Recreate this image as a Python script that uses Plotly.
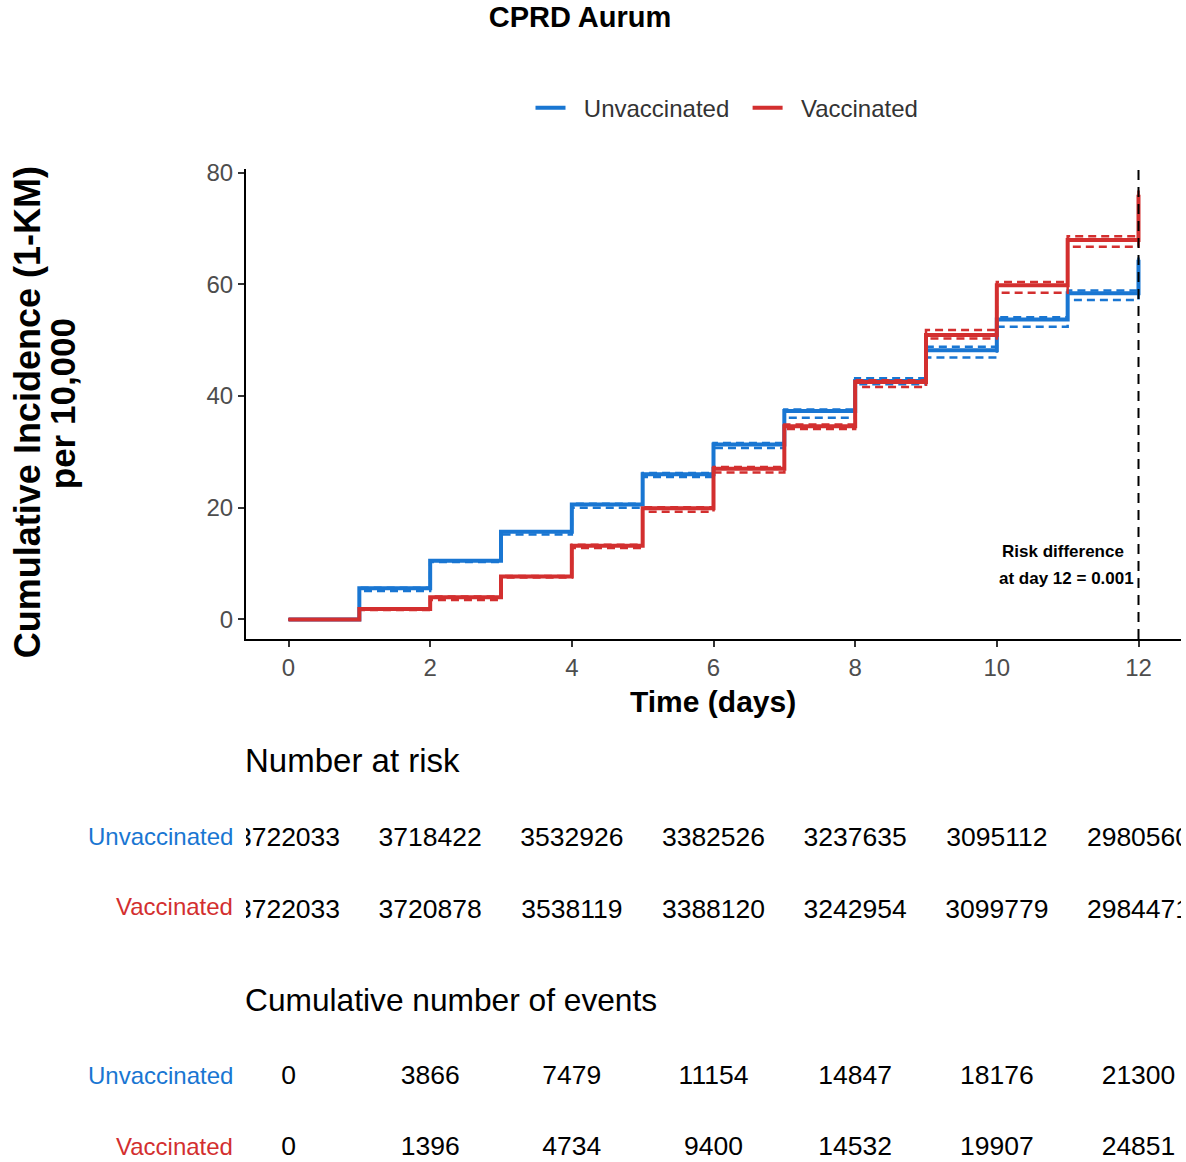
import plotly.graph_objects as go

# ---------------- data ----------------
days = [0, 1, 2, 3, 4, 5, 6, 7, 8, 9, 10, 11, 12]
unvacc_est = [0, 5.6, 10.5, 15.7, 20.6, 26.0, 31.3, 37.3, 42.7, 48.2, 53.7, 58.4, 64.4]
unvacc_upper = [0, 5.7, 10.6, 15.8, 20.7, 26.2, 31.6, 37.6, 43.2, 48.8, 54.1, 58.9, 64.8]
unvacc_lower = [0, 5.1, 10.3, 15.2, 20.0, 25.5, 30.7, 36.1, 42.1, 46.9, 52.4, 57.2, 62.8]
vacc_est = [0, 1.9, 4.0, 7.7, 13.2, 19.9, 27.0, 34.6, 42.5, 50.9, 59.8, 67.9, 76.0]
vacc_upper = [0, 2.0, 4.1, 7.8, 13.4, 20.1, 27.3, 34.9, 42.8, 51.8, 60.4, 68.6, 76.8]
vacc_lower = [0, 1.7, 3.5, 7.5, 12.8, 19.3, 26.3, 34.1, 41.6, 50.3, 58.5, 66.7, 74.8]

table_days = [0, 2, 4, 6, 8, 10, 12]
risk_unvacc = [3722033, 3718422, 3532926, 3382526, 3237635, 3095112, 2980560]
risk_vacc = [3722033, 3720878, 3538119, 3388120, 3242954, 3099779, 2984471]
events_unvacc = [0, 3866, 7479, 11154, 14847, 18176, 21300]
events_vacc = [0, 1396, 4734, 9400, 14532, 19907, 24851]

group_names = ["Unvaccinated", "Vaccinated"]
y_ticks = [0, 20, 40, 60, 80]
x_ticks = [0, 2, 4, 6, 8, 10, 12]
risk_text = ["Risk difference", "at day 12 = 0.001"]

BLUE = "#1976D2"
RED = "#D32F2F"
FONT = "Liberation Sans, Arial, sans-serif"
W, H = 1186, 1162
NB = "\u00a0"

def px_x(p):
    return p / W

def px_y(p):
    return 1 - p / H

fig = go.Figure()

# main KM curves
legend_names = [NB * 2 + group_names[0] + NB * 2, NB * 2 + group_names[1]]
for name, est, up, lo, col in [
    (legend_names[0], unvacc_est, unvacc_upper, unvacc_lower, BLUE),
    (legend_names[1], vacc_est, vacc_upper, vacc_lower, RED),
]:
    for yy in (up, lo):
        fig.add_trace(go.Scatter(x=days, y=yy, mode="lines", line_shape="hv",
                                 line=dict(color=col, width=2.5, dash="8px,5px"),
                                 showlegend=False, hoverinfo="skip",
                                 xaxis="x", yaxis="y"))
    fig.add_trace(go.Scatter(x=days, y=est, mode="lines", line_shape="hv",
                             line=dict(color=col, width=4), name=name,
                             xaxis="x", yaxis="y"))

# number at risk table
for row, vals in enumerate([risk_vacc, risk_unvacc]):
    fig.add_trace(go.Scatter(x=table_days, y=[row] * len(table_days), mode="text",
                             text=[str(v) for v in vals], cliponaxis=True,
                             textfont=dict(family=FONT, size=26.5, color="black"),
                             showlegend=False, hoverinfo="skip",
                             xaxis="x2", yaxis="y2"))
# cumulative events table
for row, vals in enumerate([events_vacc, events_unvacc]):
    fig.add_trace(go.Scatter(x=table_days, y=[row] * len(table_days), mode="text",
                             text=[str(v) for v in vals], cliponaxis=True,
                             textfont=dict(family=FONT, size=26.5, color="black"),
                             showlegend=False, hoverinfo="skip",
                             xaxis="x3", yaxis="y3"))

xdom = [px_x(246), px_x(1181)]
xrange = [-0.6, 12.6]

fig.update_layout(
    width=W, height=H,
    margin=dict(l=0, r=0, t=0, b=0),
    paper_bgcolor="white", plot_bgcolor="white",
    font=dict(family=FONT, color="#333333"),
    title=dict(text="<b>CPRD Aurum</b>", x=px_x(580), xanchor="center",
               y=px_y(17), yanchor="middle",
               font=dict(family=FONT, size=29, color="black")),
    legend=dict(orientation="h", x=px_x(727), xanchor="center",
                y=px_y(98), yanchor="middle",
                font=dict(family=FONT, size=24, color="#333333"),
                bgcolor="rgba(0,0,0,0)"),
    xaxis=dict(domain=xdom, range=xrange, tickvals=x_ticks,
               showline=True, linecolor="black", linewidth=2,
               ticks="outside", ticklen=6, tickwidth=1.5, tickcolor="#333333",
               tickfont=dict(family=FONT, size=24, color="#4D4D4D"),
               showgrid=False, zeroline=False, anchor="y"),
    yaxis=dict(domain=[px_y(634), px_y(160)], range=[-3.49, 80.54], tickvals=y_ticks,
               showline=True, linecolor="black", linewidth=2,
               ticks="outside", ticklen=6, tickwidth=1.5, tickcolor="#333333",
               tickfont=dict(family=FONT, size=24, color="#4D4D4D"),
               showgrid=False, zeroline=False, anchor="x"),
    xaxis2=dict(domain=xdom, range=xrange, visible=False, anchor="y2"),
    yaxis2=dict(domain=[px_y(945), px_y(800)], range=[-0.5, 1.5], visible=False, anchor="x2"),
    xaxis3=dict(domain=xdom, range=xrange, visible=False, anchor="y3"),
    yaxis3=dict(domain=[px_y(1162), px_y(1040)], range=[-0.197, 1.521], visible=False, anchor="x3"),
)

# vertical dashed line at day 12
fig.add_shape(type="line", xref="x", yref="y domain", x0=12, x1=12, y0=0, y1=1,
              line=dict(color="black", width=2, dash="10px,7px"))

annotations = []
# risk difference labels
annotations.append(dict(text="<b>%s</b>" % risk_text[0], xref="x", yref="y", x=10.94, y=12.2,
                        xanchor="center", yanchor="middle", showarrow=False,
                        font=dict(family=FONT, size=17, color="black")))
annotations.append(dict(text="<b>%s</b>" % risk_text[1], xref="x", yref="y", x=10.99, y=7.4,
                        xanchor="center", yanchor="middle", showarrow=False,
                        font=dict(family=FONT, size=17, color="black")))
# axis titles
annotations.append(dict(text="<b>Cumulative Incidence (1-KM)</b>", xref="paper", yref="paper",
                        x=px_x(27), y=px_y(405), xanchor="center", yanchor="middle",
                        textangle=-90, showarrow=False,
                        font=dict(family=FONT, size=36, color="black")))
annotations.append(dict(text="<b>per 10,000</b>", xref="paper", yref="paper",
                        x=px_x(62), y=px_y(397), xanchor="center", yanchor="middle",
                        textangle=-90, showarrow=False,
                        font=dict(family=FONT, size=35, color="black")))
annotations.append(dict(text="<b>Time (days)</b>", xref="paper", yref="paper",
                        x=px_x(713), y=px_y(697), xanchor="center", yanchor="middle",
                        showarrow=False,
                        font=dict(family=FONT, size=30, color="black")))
# table titles
annotations.append(dict(text="Number at risk", xref="paper", yref="paper",
                        x=px_x(243), y=px_y(757), xanchor="left", yanchor="middle",
                        showarrow=False,
                        font=dict(family=FONT, size=33, color="black")))
annotations.append(dict(text="Cumulative number of events", xref="paper", yref="paper",
                        x=px_x(243), y=px_y(998), xanchor="left", yanchor="middle",
                        showarrow=False,
                        font=dict(family=FONT, size=31.7, color="black")))
# row labels
for ypx, name, col in [(833, group_names[0], BLUE), (904, group_names[1], RED),
                       (1075, group_names[0], BLUE), (1146, group_names[1], RED)]:
    annotations.append(dict(text=name, xref="paper", yref="paper",
                            x=px_x(235), y=px_y(ypx), xanchor="right", yanchor="middle",
                            showarrow=False,
                            font=dict(family=FONT, size=24, color=col)))
fig.update_layout(annotations=annotations)

fig.write_html("out.html")
